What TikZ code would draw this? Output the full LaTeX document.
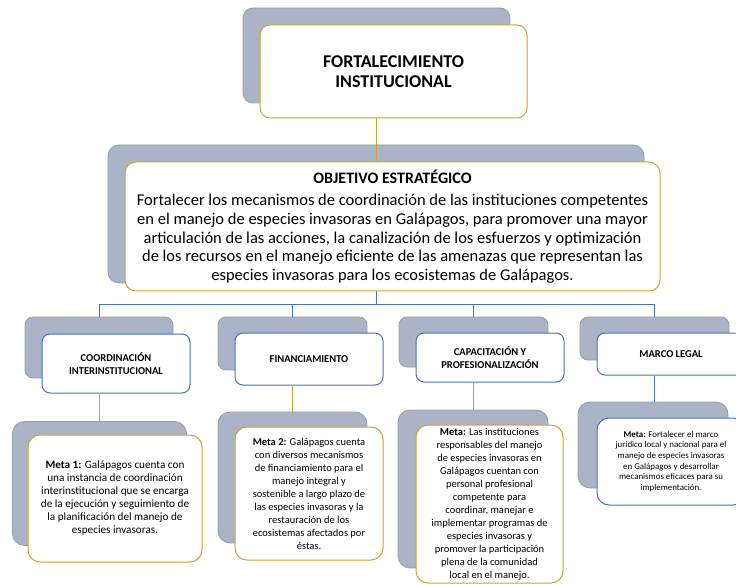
\documentclass[tikz,border=0pt]{standalone}
\usepackage{fontspec}
\setmainfont{Carlito}
\definecolor{shadefill}{RGB}{170,180,198}
\definecolor{shadedraw}{RGB}{150,158,172}
\definecolor{goldc}{RGB}{204,164,44}
\definecolor{bluec}{RGB}{68,114,196}
\tikzset{
  shadebox/.style={draw=shadedraw, fill=shadefill, line width=0.8pt, inner sep=0pt, rounded corners=#1},
  shadebox/.default=9pt,
  goldbox/.style={draw=goldc, fill=white, line width=1pt, inner sep=0pt, align=center, rounded corners=#1},
  goldbox/.default=10pt,
  bluebox/.style={draw=bluec, fill=white, line width=1pt, inner sep=0pt, align=center, rounded corners=#1},
  bluebox/.default=8pt,
  goldline/.style={draw=goldc, line width=1pt},
  blueline/.style={draw=bluec, line width=1pt},
  cattext/.style={font=\fontsize{10.5}{12.5}\selectfont\bfseries},
  metatext/.style={font=\fontsize{10.5}{13}\selectfont},
}
\begin{document}
\begin{tikzpicture}[x=1pt,y=-1pt]
\useasboundingbox (0,0) rectangle (736,585);
% top
\node[shadebox=10pt, minimum width=267pt, minimum height=95pt] (s0) at (376.5,55.5) {};
\node[goldbox=10pt, minimum width=267pt, minimum height=93pt, font=\fontsize{18}{20.5}\selectfont\bfseries] (f0) at (393.5,71.5) {FORTALECIMIENTO\\INSTITUCIONAL};
% objective
\node[shadebox=11pt, minimum width=536pt, minimum height=138pt] (s1) at (376,214) {};
\node[goldbox=11pt, minimum width=535pt, minimum height=129pt, font=\fontsize{16.5}{18.6}\selectfont] (f1) at (392.5,226.5) {{\fontsize{16}{17}\selectfont\bfseries OBJETIVO ESTRATÉGICO}\\[4pt]
Fortalecer los mecanismos de coordinación de las instituciones competentes\\
en el manejo de especies invasoras en Galápagos, para promover una mayor\\
articulación de las acciones, la canalización de los esfuerzos y optimización\\
de los recursos en el manejo eficiente de las amenazas que representan las\\
especies invasoras para los ecosistemas de Galápagos.};
% categories
\node[shadebox=8pt, minimum width=148pt, minimum height=61pt] (sc1) at (99,347.5) {};
\node[bluebox, minimum width=148pt, minimum height=59pt, cattext] (fc1) at (116,363.5) {COORDINACIÓN\\INTERINSTITUCIONAL};
\node[shadebox=8pt, minimum width=149pt, minimum height=53pt] (sc2) at (292.5,343.5) {};
\node[bluebox, minimum width=148pt, minimum height=52pt, cattext] (fc2) at (309,359) {FINANCIAMIENTO};
\node[shadebox=8pt, minimum width=149pt, minimum height=50pt] (sc3) at (473.5,342) {};
\node[bluebox, minimum width=148pt, minimum height=49pt, cattext] (fc3) at (490,357.5) {CAPACITACIÓN Y\\PROFESIONALIZACIÓN};
\node[shadebox=8pt, minimum width=149pt, minimum height=43pt] (sc4) at (654.5,338.5) {};
\node[bluebox, minimum width=148pt, minimum height=42pt, cattext] (fc4) at (671,354) {MARCO LEGAL};
% metas
\node[shadebox=12pt, minimum width=174pt, minimum height=124pt] (sm1) at (99.5,483.5) {};
\node[goldbox=12pt, minimum width=174pt, minimum height=127pt, font=\fontsize{11.2}{13}\selectfont] (fm1) at (115,498.5) {\textbf{Meta 1:} Galápagos cuenta con\\
una instancia de coordinación\\
interinstitucional que se encarga\\
de la ejecución y seguimiento de\\
la planificación del manejo de\\
especies invasoras.};
\node[shadebox=12pt, minimum width=149pt, minimum height=131pt] (sm2) at (292.5,477.5) {};
\node[goldbox=12pt, minimum width=148pt, minimum height=133pt, metatext] (fm2) at (309,493.5) {\textbf{Meta 2:} Galápagos cuenta\\
con diversos mecanismos\\
de financiamiento para el\\
manejo integral y\\
sostenible a largo plazo de\\
las especies invasoras y la\\
restauración de los\\
ecosistemas afectados por\\
éstas.};
\node[shadebox=12pt, minimum width=150pt, minimum height=158pt] (sm3) at (473,489) {};
\node[goldbox=12pt, minimum width=147pt, minimum height=158pt, metatext] (fm3) at (489.5,504) {\textbf{Meta:} Las instituciones\\
responsables del manejo\\
de especies invasoras en\\
Galápagos cuentan con\\
personal profesional\\
competente para\\
coordinar, manejar e\\
implementar programas de\\
especies invasoras y\\
promover la participación\\
plena de la comunidad\\
local en el manejo.};
\node[shadebox=12pt, minimum width=150pt, minimum height=86pt] (sm4) at (653,445) {};
\node[bluebox=12pt, minimum width=148pt, minimum height=87pt, font=\fontsize{8.9}{10.6}\selectfont] (fm4) at (671,461.5) {\textbf{Meta:} Fortalecer el marco\\
jurídico local y nacional para el\\
manejo de especies invasoras\\
en Galápagos y desarrollar\\
mecanismos eficaces para su\\
implementación.};
% connectors
\coordinate (bus) at (377,304);
\draw[goldline] (s0.center |- f0.south) -- (s0.center |- f1.north);
\draw[blueline] (s0.center |- f1.south) -- (s0.center |- bus);
\draw[blueline] (sc1.center |- bus) -- (sc4.center |- bus);
\draw[blueline] (sc1.center |- bus) -- (sc1.north);
\draw[blueline] (sc2.center |- bus) -- (sc2.north);
\draw[blueline] (sc3.center |- bus) -- (sc3.north);
\draw[blueline] (sc4.center |- bus) -- (sc4.north);
\draw[goldline] (sc1.center |- fc1.south) -- (sc1.center |- sm1.north);
\draw[goldline] (sc2.center |- fc2.south) -- (sc2.center |- sm2.north);
\draw[goldline] (sc3.center |- fc3.south) -- (sc3.center |- sm3.north);
\draw[blueline] (sc4.center |- fc4.south) -- (sc4.center |- sm4.north);
\end{tikzpicture}
\end{document}
